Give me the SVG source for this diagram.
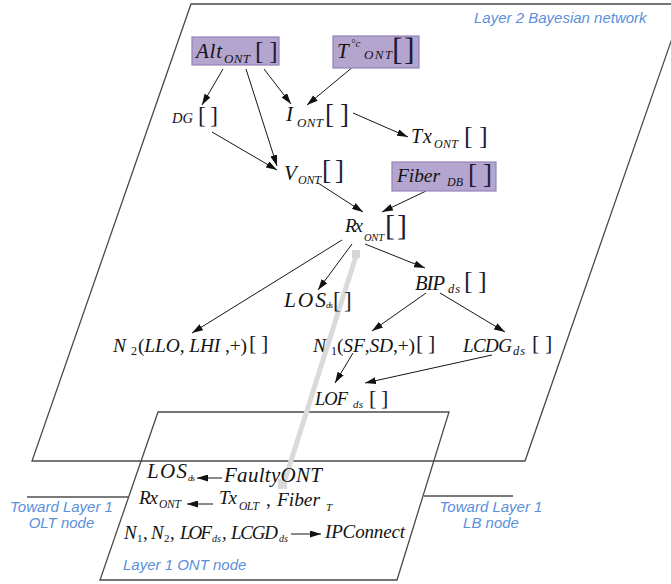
<svg xmlns="http://www.w3.org/2000/svg" width="671" height="584" viewBox="0 0 671 584">
  <defs>
    <marker id="ah" viewBox="0 0 11 7" refX="11" refY="3.5" markerWidth="11" markerHeight="7" markerUnits="userSpaceOnUse" orient="auto">
      <path d="M0,0 L11,3.5 L0,7 z" fill="#111"/>
    </marker>
    <style>
      .m { font-family: "Liberation Serif", "Times New Roman", serif; font-style: italic; fill: #131313; }
      .u { font-style: normal; }
      .b { font-family: "Liberation Serif", "Times New Roman", serif; fill: #1d1c38; }
      .lab { font-family: "Liberation Sans", Arial, sans-serif; font-style: italic; font-size: 15px; fill: #5b8fdb; }
      .pbox { fill: #b4a5cf; stroke: #9482b8; stroke-width: 1.2; }
      .edge { stroke: #161616; stroke-width: 1; fill: none; marker-end: url(#ah); }
      .frame { fill: none; stroke: #4a4a4a; stroke-width: 1.3; }
      .link { stroke: #7a7a7a; stroke-width: 1.8; }
    </style>
  </defs>

  <rect width="671" height="584" fill="#ffffff"/>

  <!-- Layer 2 plane and Layer 1 ONT plane -->
  <g id="planes">
    <polygon class="frame" points="191,4 684,4 525,461 32,461"/>
    <polygon class="frame" points="158,412 449,412 397,580 100,580" stroke="#333"/>
    <line class="link" x1="27" y1="497" x2="128" y2="497"/>
    <line class="link" x1="424" y1="496" x2="513" y2="496"/>
    <text class="lab" x="474" y="23">Layer 2 Bayesian network</text>
    <text class="lab" x="61.5" y="512" text-anchor="middle">Toward Layer 1</text>
    <text class="lab" x="61.5" y="528" text-anchor="middle">OLT node</text>
    <text class="lab" x="491" y="512" text-anchor="middle">Toward Layer 1</text>
    <text class="lab" x="491" y="528" text-anchor="middle">LB node</text>
    <text class="lab" x="123" y="570">Layer 1 ONT node</text>
  </g>

  <!-- inter-layer link -->
  <g id="layer-link">
    <line x1="283" y1="486" x2="356" y2="256" stroke="#dadada" stroke-width="5"/>
    <rect x="352" y="250" width="8" height="8" fill="#d6d6d6"/>
    <rect x="278" y="479" width="9" height="10" fill="#dadada"/>
  </g>

  <!-- connectors -->
  <g id="connectors">
    <line class="edge" x1="223" y1="69" x2="202" y2="105"/>
    <line class="edge" x1="246" y1="69" x2="277" y2="166"/>
    <line class="edge" x1="264" y1="69" x2="291" y2="104"/>
    <line class="edge" x1="354" y1="66" x2="307" y2="105"/>
    <line class="edge" x1="353" y1="113" x2="408" y2="137"/>
    <line class="edge" x1="212" y1="132" x2="277" y2="170"/>
    <line class="edge" x1="318" y1="183" x2="363" y2="212"/>
    <line class="edge" x1="426" y1="191" x2="382" y2="212"/>
    <line class="edge" x1="342" y1="240" x2="192" y2="333"/>
    <line class="edge" x1="352" y1="244" x2="318" y2="290"/>
    <line class="edge" x1="365" y1="244" x2="425" y2="268"/>
    <line class="edge" x1="426" y1="293" x2="372" y2="331"/>
    <line class="edge" x1="440" y1="293" x2="505" y2="332"/>
    <line class="edge" x1="353" y1="353" x2="335" y2="383"/>
    <line class="edge" x1="492" y1="355" x2="365" y2="383"/>
  </g>

  <g id="alt-ont">
    <rect class="pbox" x="192" y="37" width="87" height="28"/>
    <text class="m" x="196" y="58" font-size="21" textLength="26">Alt</text>
    <text class="m" x="224" y="63" font-size="13" textLength="26">ONT</text>
    <text class="b" x="255" y="59" font-size="26">[</text>
    <text class="b" x="269" y="59" font-size="26">]</text>
  </g>

  <g id="temp-ont">
    <rect class="pbox" x="333" y="36" width="86" height="32"/>
    <text class="m" x="337" y="58" font-size="21">T</text>
    <text class="m" x="351" y="47" font-size="11">°c</text>
    <text class="m" x="364" y="59" font-size="13" textLength="28">ONT</text>
    <text class="b" x="392" y="60" font-size="32">[</text>
    <text class="b" x="404" y="60" font-size="32">]</text>
  </g>

  <g id="dg">
    <text class="m" x="172" y="123" font-size="14.5" textLength="21">DG</text>
    <text class="b" x="198" y="123" font-size="24">[</text>
    <text class="b" x="210" y="123" font-size="24">]</text>
  </g>

  <g id="i-ont">
    <text class="m" x="286" y="121" font-size="21">I</text>
    <text class="m" x="297" y="127" font-size="13" textLength="26">ONT</text>
    <text class="b" x="325" y="123" font-size="27">[</text>
    <text class="b" x="340" y="123" font-size="27">]</text>
  </g>

  <g id="tx-ont">
    <text class="m" x="411" y="143" font-size="20" textLength="21">Tx</text>
    <text class="m" x="434" y="148" font-size="12" textLength="24">ONT</text>
    <text class="b" x="464" y="144" font-size="26">[</text>
    <text class="b" x="479" y="144" font-size="26">]</text>
  </g>

  <g id="v-ont">
    <text class="m" x="284" y="180" font-size="21">V</text>
    <text class="m" x="298" y="184" font-size="12" textLength="23">ONT</text>
    <text class="b" x="322" y="179" font-size="27">[</text>
    <text class="b" x="335" y="179" font-size="27">]</text>
  </g>

  <g id="fiber-db">
    <rect class="pbox" x="392" y="162" width="104" height="29"/>
    <text class="m" x="397" y="182" font-size="19.5" textLength="43">Fiber</text>
    <text class="m" x="447" y="186" font-size="12" textLength="16">DB</text>
    <text class="b" x="468" y="183" font-size="27">[</text>
    <text class="b" x="483" y="183" font-size="27">]</text>
  </g>

  <g id="rx-ont">
    <text class="m" x="345" y="232" font-size="19" textLength="18">Rx</text>
    <text class="m" x="364" y="241" font-size="10.5" textLength="20">ONT</text>
    <text class="b" x="385" y="235" font-size="30">[</text>
    <text class="b" x="397" y="235" font-size="30">]</text>
  </g>

  <g id="los-ds">
    <text class="m" x="284" y="307" font-size="21.5" textLength="42">LOS</text>
    <text class="m" x="326" y="308" font-size="9" textLength="7">ds</text>
    <text class="b" x="333" y="308" font-size="23">[</text>
    <text class="b" x="344" y="308" font-size="23">]</text>
  </g>

  <g id="bip-ds">
    <text class="m" x="415" y="290" font-size="20.5" textLength="30">BIP</text>
    <text class="m" x="448" y="293" font-size="12.5" textLength="12">ds</text>
    <text class="b" x="464" y="289" font-size="26">[</text>
    <text class="b" x="478" y="289" font-size="26">]</text>
  </g>

  <g id="n2">
    <text class="m" x="113" y="352" font-size="19.5">N</text>
    <text class="m u" x="131" y="355" font-size="12">2</text>
    <text class="m" x="138" y="352" font-size="19.5" textLength="109"><tspan class="u">(</tspan>LLO<tspan class="u">, </tspan>LHI<tspan class="u"> ,+)</tspan></text>
    <text class="b" x="249" y="350" font-size="22">[</text>
    <text class="b" x="261" y="350" font-size="22">]</text>
  </g>

  <g id="n1">
    <text class="m" x="313" y="352" font-size="19.5">N</text>
    <text class="m u" x="331" y="355" font-size="12">1</text>
    <text class="m" x="337" y="352" font-size="19.5" textLength="78"><tspan class="u">(</tspan>SF<tspan class="u">,</tspan>SD<tspan class="u">,+)</tspan></text>
    <text class="b" x="416" y="350" font-size="22">[</text>
    <text class="b" x="428" y="350" font-size="22">]</text>
  </g>

  <g id="lcdg-ds">
    <text class="m" x="463" y="352" font-size="19" textLength="49">LCDG</text>
    <text class="m" x="513" y="355" font-size="12.5" textLength="12">ds</text>
    <text class="b" x="532" y="350" font-size="22">[</text>
    <text class="b" x="545" y="350" font-size="22">]</text>
  </g>

  <g id="lof-ds">
    <text class="m" x="315" y="405" font-size="18.5" textLength="33">LOF</text>
    <text class="m" x="353" y="408" font-size="11" textLength="10">ds</text>
    <text class="b" x="369" y="405" font-size="22">[</text>
    <text class="b" x="381" y="405" font-size="22">]</text>
  </g>

  <!-- rules held by the Layer 1 ONT node -->
  <g id="ont-rules">
    <text class="m" x="147" y="478" font-size="21" textLength="40">LOS</text>
    <text class="m" x="188" y="481" font-size="9" textLength="7">ds</text>
    <line class="edge" x1="222" y1="478" x2="197" y2="478" stroke-width="1.4"/>
    <text class="m" x="224" y="482" font-size="21" textLength="98">FaultyONT</text>

    <text class="m" x="139" y="504" font-size="19" textLength="19">Rx</text>
    <text class="m" x="159" y="508" font-size="11.5" textLength="22">ONT</text>
    <line class="edge" x1="213" y1="504" x2="187" y2="504" stroke-width="1.4"/>
    <text class="m" x="219" y="504" font-size="19" textLength="18">Tx</text>
    <text class="m" x="239" y="510" font-size="11.5" textLength="20">OLT</text>
    <text class="m u" x="266" y="506" font-size="19">,</text>
    <text class="m" x="277" y="506" font-size="19.5" textLength="43">Fiber</text>
    <text class="m" x="326" y="511" font-size="11">T</text>

    <text class="m" x="124" y="539" font-size="19">N</text>
    <text class="m u" x="137" y="542" font-size="11">1</text>
    <text class="m u" x="143" y="539" font-size="19">,</text>
    <text class="m" x="151" y="539" font-size="19">N</text>
    <text class="m u" x="164" y="542" font-size="11">2</text>
    <text class="m u" x="170" y="539" font-size="19">,</text>
    <text class="m" x="180" y="539" font-size="19" textLength="32">LOF</text>
    <text class="m" x="212" y="542" font-size="10" textLength="9">ds</text>
    <text class="m u" x="222" y="539" font-size="19">,</text>
    <text class="m" x="231" y="539" font-size="19" textLength="47">LCGD</text>
    <text class="m" x="279" y="542" font-size="10" textLength="9">ds</text>
    <line class="edge" x1="291" y1="534" x2="321" y2="534" stroke-width="1.4"/>
    <text class="m" x="325" y="538" font-size="19" textLength="80">IPConnect</text>
  </g>
</svg>
